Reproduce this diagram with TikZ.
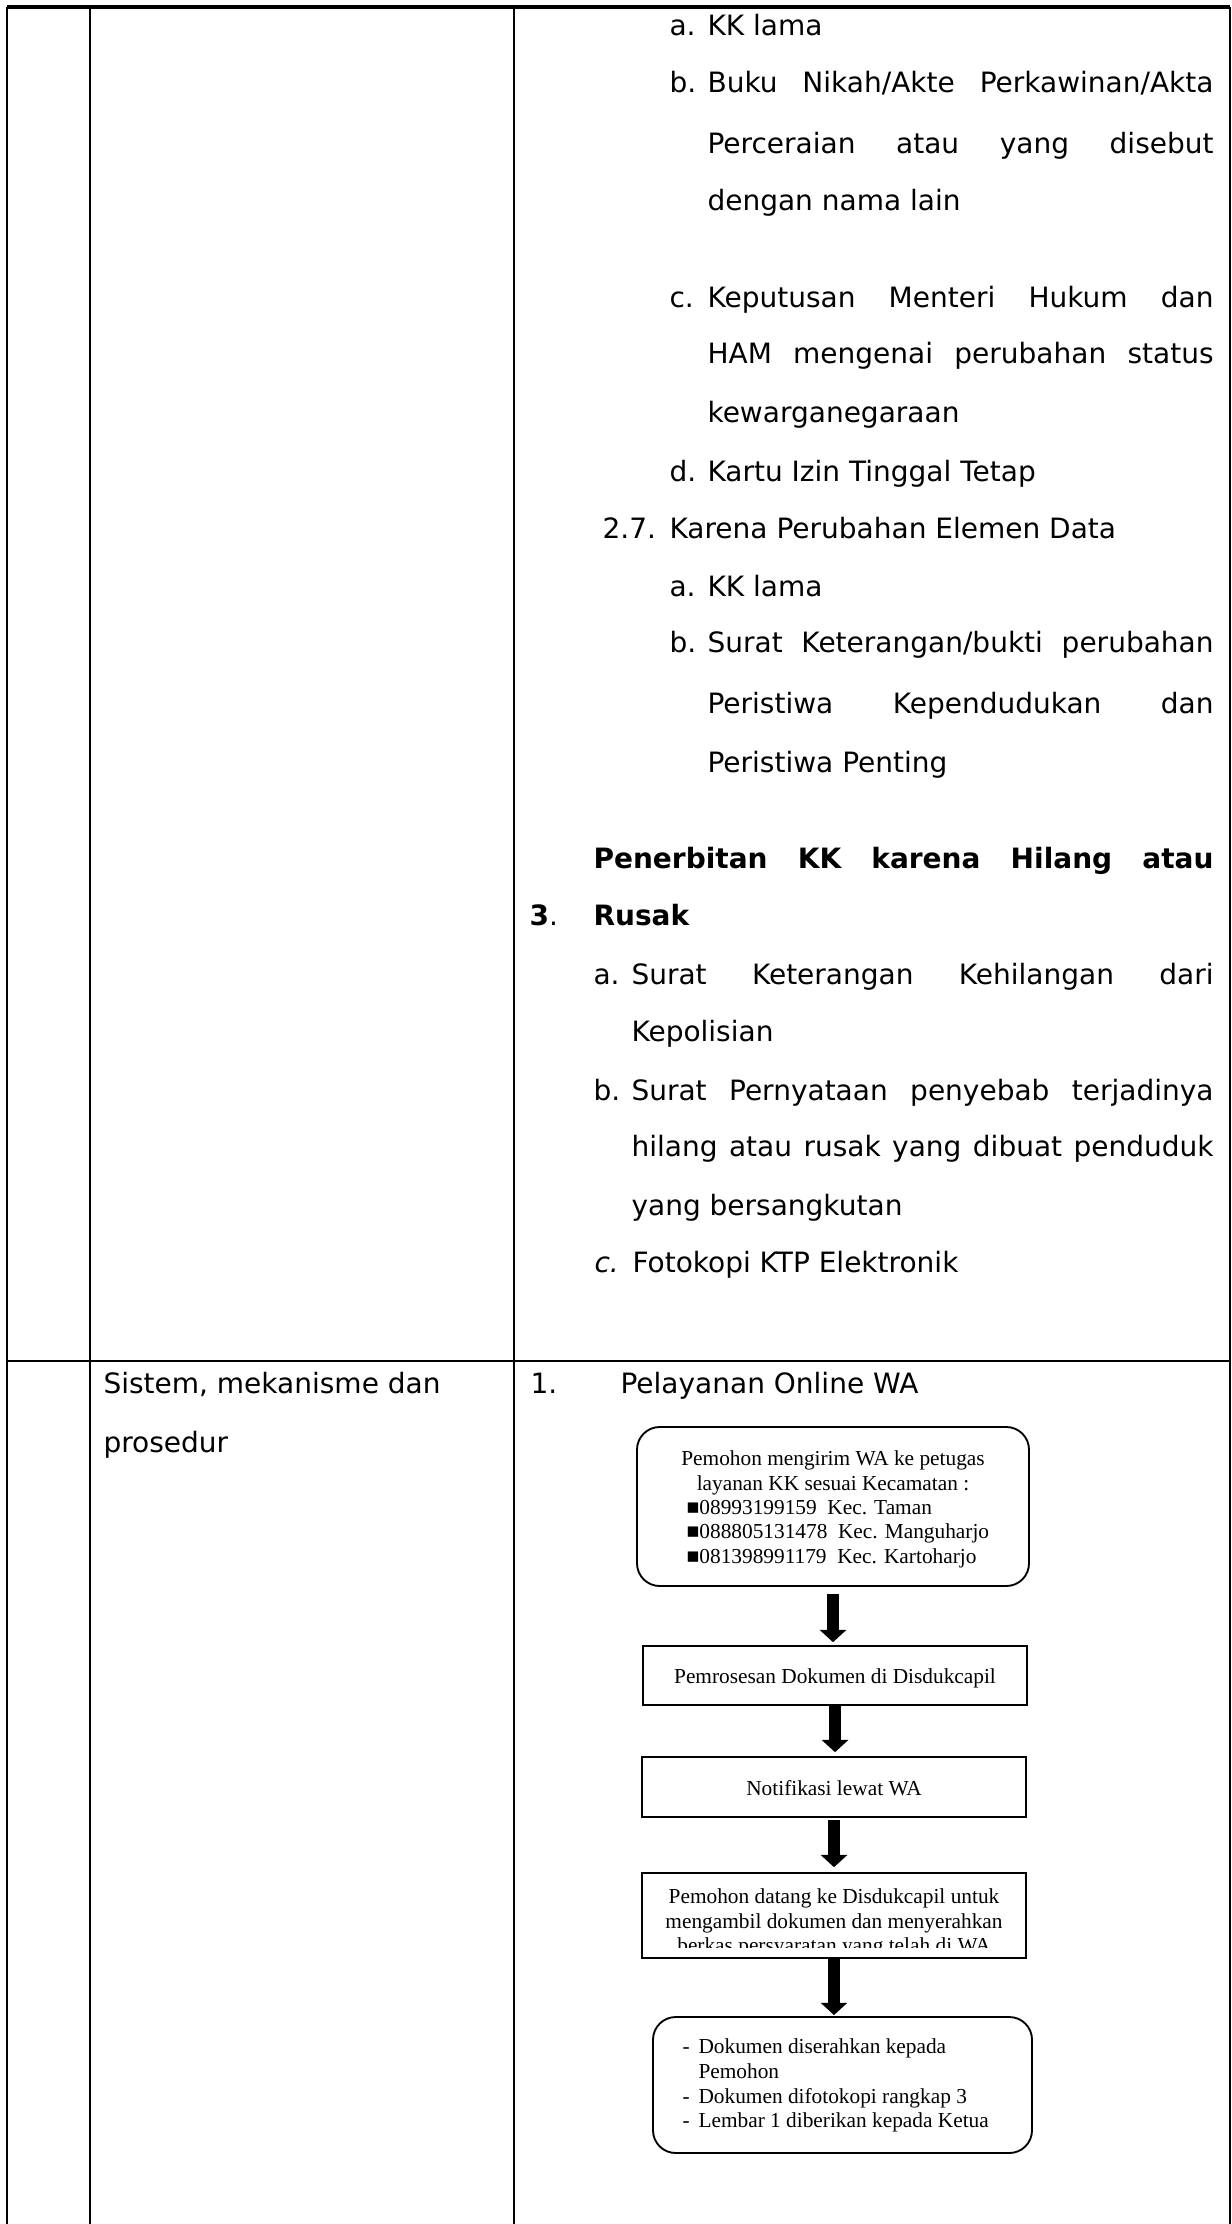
\documentclass[tikz,border=0pt]{standalone}
\usepackage{fontspec}
\setmainfont{DejaVu Sans}
\newfontfamily\tnr{Liberation Serif}
\usetikzlibrary{arrows.meta}
\newlength\px
\setlength\px{0.375pt}
\newcommand\jl[2]{\makebox[#1\px][s]{#2}}
\begin{document}
\begin{tikzpicture}[x=0.375pt,y=-0.375pt,
  txt/.style={anchor=base west, inner sep=0pt, font=\fontsize{10.5}{13}\selectfont},
  ftxt/.style={anchor=base, inner sep=0pt, font=\tnr\fontsize{8}{9.2}\selectfont},
  ftxl/.style={anchor=base west, inner sep=0pt, font=\tnr\fontsize{8}{9.2}\selectfont},
  gridline/.style={line width=0.95pt},
  rbox/.style={draw, line width=0.7pt, rounded corners=8.5pt, inner sep=0pt},
  sbox/.style={draw, line width=0.6pt, inner sep=0pt},
  barrow/.style={line width=4.4pt, -{Triangle[length=4.6pt,width=9.75pt]}}
]
\useasboundingbox (0,0) rectangle (1232,2224);
% table
\draw[gridline, line width=1.2pt] (7,7) -- (1230,7);
\draw[gridline] (7,1361) -- (1230,1361);
\draw[gridline] (7,7) -- (7,2224);
\draw[gridline] (90,7) -- (90,2224);
\draw[gridline] (514,7) -- (514,2224);
\draw[gridline] (1230,7) -- (1230,2224);
% column 3, upper row
\node[txt] (l1a) at (669,36) {a.};
\node[txt] (l1) at (707,36) {KK lama};
\node[txt] (l2a) at (669,93) {b.};
\node[txt] (l2) at (707,93) {\jl{506}{Buku Nikah/Akte Perkawinan/Akta}};
\node[txt] (l3) at (707,154) {\jl{506}{Perceraian atau yang disebut}};
\node[txt] (l4) at (707,211) {dengan nama lain};
\node[txt] (l5a) at (669,308) {c.};
\node[txt] (l5) at (707,308) {\jl{506}{Keputusan Menteri Hukum dan}};
\node[txt] (l6) at (707,364) {\jl{506}{HAM mengenai perubahan status}};
\node[txt] (l7) at (707,423) {kewarganegaraan};
\node[txt] (l8a) at (669,482) {d.};
\node[txt] (l8) at (707,482) {Kartu Izin Tinggal Tetap};
\node[txt] (l9a) at (602,539) {2.7.};
\node[txt] (l9) at (669,539) {Karena Perubahan Elemen Data};
\node[txt] (l10a) at (669,596) {a.};
\node[txt] (l10) at (707,596) {KK lama};
\node[txt] (l11a) at (669,652) {b.};
\node[txt] (l11) at (707,652) {\jl{506}{Surat Keterangan/bukti perubahan}};
\node[txt] (l12) at (707,713) {\jl{506}{Peristiwa Kependudukan dan}};
\node[txt] (l13) at (707,772) {Peristiwa Penting};
\node[txt] (l14) at (593,868) {\bfseries\jl{620}{Penerbitan KK karena Hilang atau}};
\node[txt] (l15a) at (529,925) {{\bfseries 3}.};
\node[txt] (l15) at (593,925) {\bfseries Rusak};
\node[txt] (l16a) at (593,984) {a.};
\node[txt] (l16) at (631,984) {\jl{582}{Surat Keterangan Kehilangan dari}};
\node[txt] (l17) at (631,1041) {Kepolisian};
\node[txt] (l18a) at (593,1100) {b.};
\node[txt] (l18) at (631,1100) {\jl{582}{Surat Pernyataan penyebab terjadinya}};
\node[txt] (l19) at (631,1156) {\jl{582}{hilang atau rusak yang dibuat penduduk}};
\node[txt] (l20) at (631,1215) {yang bersangkutan};
\node[txt] (l21a) at (594,1272) {\itshape c.};
\node[txt] (l21) at (632,1272) {Fotokopi KTP Elektronik};
% lower row
\node[txt] (s1) at (103,1393) {Sistem, mekanisme dan};
\node[txt] (s2) at (103,1452) {prosedur};
\node[txt] (p1a) at (530,1393) {1.};
\node[txt] (p1) at (620,1393) {Pelayanan Online WA};
% flowchart boxes
\node[rbox, minimum width=392\px, minimum height=159\px] (b1) at (833,1506.5) {};
\node[sbox, minimum width=384\px, minimum height=59\px] (b2) at (835,1675.5) {};
\node[sbox, minimum width=384\px, minimum height=60\px] (b3) at (834,1787) {};
\node[sbox, minimum width=384\px, minimum height=85\px] (b4) at (834,1915.5) {};
\node[rbox, minimum width=379\px, minimum height=136\px] (b5) at (842.5,2085) {};
% box texts
\node[ftxt] (b1t1) at (833,1465) {Pemohon mengirim WA ke petugas};
\node[ftxt] (b1t2) at (833,1490) {layanan KK sesuai Kecamatan :};
\node[ftxl] (b1t3) at (686,1514) {■08993199159\ \ Kec. Taman};
\node[ftxl] (b1t4) at (686,1538) {■088805131478\ \ Kec. Manguharjo};
\node[ftxl] (b1t5) at (686,1563) {■081398991179\ \ Kec. Kartoharjo};
\node[ftxt] (b2t) at (835,1683) {Pemrosesan Dokumen di Disdukcapil};
\node[ftxt] (b3t) at (834,1795) {Notifikasi lewat WA};
\begin{scope}
\clip (642,1873) rectangle (1026,1947);
\node[ftxt] (b4t1) at (834,1903) {Pemohon datang ke Disdukcapil untuk};
\node[ftxt] (b4t2) at (834,1928) {mengambil dokumen dan menyerahkan};
\node[ftxt] (b4t3) at (834,1952.5) {berkas persyaratan yang telah di WA};
\end{scope}
\node[ftxl] (b5d1) at (682,2053) {-};
\node[ftxl] (b5t1) at (698,2053) {Dokumen diserahkan kepada};
\node[ftxl] (b5t2) at (698,2078) {Pemohon};
\node[ftxl] (b5d3) at (682,2103) {-};
\node[ftxl] (b5t3) at (698,2103) {Dokumen difotokopi rangkap 3};
\node[ftxl] (b5d4) at (682,2127) {-};
\node[ftxl] (b5t4) at (698,2127) {Lembar 1 diberikan kepada Ketua};
% arrows
\draw[barrow, shorten <=7\px, shorten >=3\px] (b1.south) -- (b1.south |- b2.north);
\draw[barrow, shorten >=4\px] (b2.south) -- (b2.south |- b3.north);
\draw[barrow, shorten <=2\px, shorten >=5\px] (b3.south) -- (b3.south |- b4.north);
\draw[barrow, shorten >=1\px] (b4.south) -- (b4.south |- b5.north);
\end{tikzpicture}
\end{document}
